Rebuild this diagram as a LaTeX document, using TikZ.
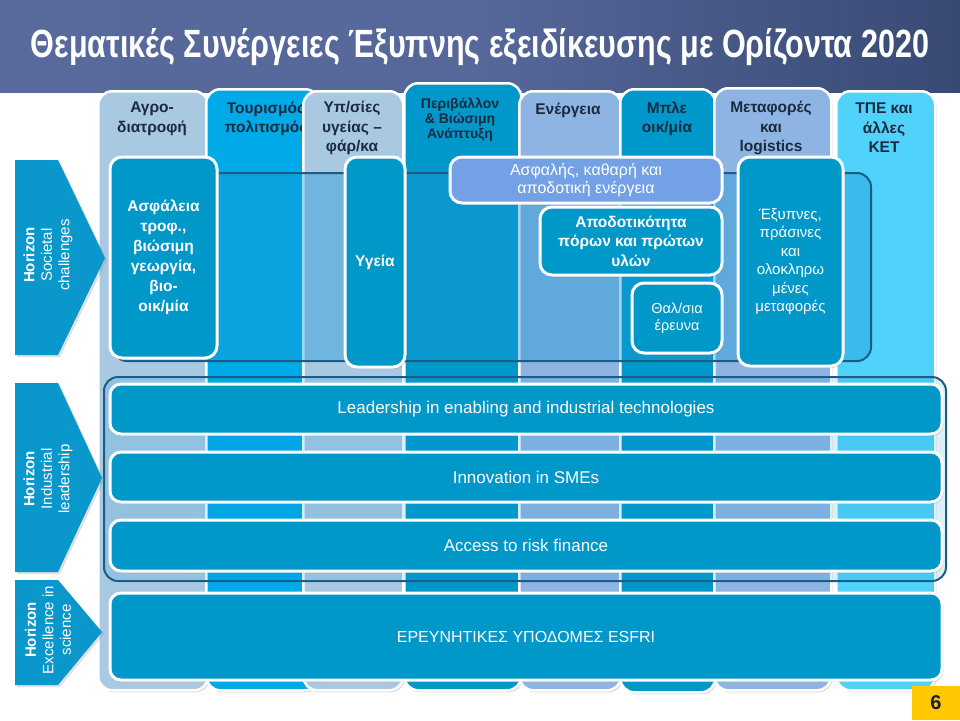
\documentclass[tikz,border=0pt]{standalone}
\usepackage{fontspec}
\setmainfont{Liberation Sans}
\usepackage{graphicx}
\usetikzlibrary{shadows}
\definecolor{hdrA}{HTML}{5A6B9C}
\definecolor{hdrB}{HTML}{56679A}
\definecolor{hdrC}{HTML}{34466F}
\definecolor{hdrD}{HTML}{16243F}
\definecolor{cLight}{HTML}{A9C8E2}
\definecolor{cBright}{HTML}{00A9E8}
\definecolor{cMed}{HTML}{0098CA}
\definecolor{cPeri}{HTML}{8EB4E3}
\definecolor{cCyan}{HTML}{50D2FA}
\definecolor{boxBlue}{HTML}{0097C9}
\definecolor{enBlue}{HTML}{74A0E6}
\definecolor{bandLine}{HTML}{1B5D88}
\definecolor{bandFill}{HTML}{1A9AD6}
\definecolor{arrBlue}{HTML}{0A97CB}
\definecolor{hdrText}{HTML}{1C2A40}
\definecolor{pgYellow}{HTML}{FFC800}
\definecolor{pgText}{HTML}{1A1A33}
\pgfdeclarehorizontalshading{hdrshade}{100bp}{color(0bp)=(hdrA); color(50bp)=(hdrB); color(78bp)=(hdrC); color(100bp)=(hdrD)}
\begin{document}
\begin{tikzpicture}[x=1pt,y=-1pt,
  softshadow/.style={drop shadow={shadow xshift=1.5pt, shadow yshift=-2pt, opacity=0.25, fill=black!60}},
  colbox/.style={draw=white, line width=2.5pt, rounded corners=14pt, inner sep=0pt, anchor=north west, softshadow},
  colhdr/.style={font=\bfseries\fontsize{15.5}{19.5}\selectfont, text=hdrText, align=center, inner sep=0pt},
  band/.style={draw=bandLine, line width=2pt, fill=bandFill, fill opacity=0.4, rounded corners=14pt, inner sep=0pt, anchor=north west},
  sbox/.style={draw=white, line width=3pt, rounded corners=12pt, fill=boxBlue, text=white, align=center, inner sep=0pt, softshadow},
  sbold/.style={font=\bfseries\fontsize{15.5}{20}\selectfont},
  sreg/.style={font=\fontsize{15}{18.5}\selectfont},
  rowbox/.style={draw=white, line width=3pt, rounded corners=11pt, fill=boxBlue, text=white, inner sep=0pt, minimum width=832pt, font=\fontsize{17}{20}\selectfont, softshadow},
  arrowtxt/.style={rotate=90, text=white, align=center, font=\fontsize{15}{17.5}\selectfont, inner sep=0pt},
  arrowshape/.style={fill=arrBlue, drop shadow={shadow xshift=2pt, shadow yshift=-2pt, opacity=0.3, fill=black!40}}
]
\useasboundingbox (0,0) rectangle (960,720);
\fill[white] (0,0) rectangle (960,720);
\shade[shading=hdrshade] (0,0) rectangle (960,92);

% title
\node[text=white, anchor=base, inner sep=0pt] (title) at (480,57)
  {\resizebox{898pt}{29pt}{\bfseries Θεματικές Συνέργειες Έξυπνης εξειδίκευσης με Ορίζοντα 2020}};

% columns
\node[colbox, fill=cLight, minimum width=110pt, minimum height=599pt] (col1) at (97,90) {};
\node[colhdr] (h1) at (152,119) {Αγρο-\\διατροφή};
\node[colbox, fill=cBright, minimum width=113pt, minimum height=601pt] (col2) at (205,88) {};
\node[colhdr] (h2) at (266,119) {Τουρισμός\\πολιτισμός};
\node[colbox, fill=cLight, minimum width=100pt, minimum height=599pt] (col3) at (302,90) {};
\node[colhdr] (h3) at (352,128) {Υπ/σίες\\υγείας –\\φάρ/κα};
\node[colbox, fill=cMed, minimum width=117pt, minimum height=607pt] (col4) at (403,82) {};
\node[colhdr, font=\bfseries\fontsize{14}{15}\selectfont] (h4) at (460,120) {Περιβάλλον\\\& Βιώσιμη\\Ανάπτυξη};
\node[colbox, fill=cPeri, minimum width=102pt, minimum height=599pt] (col5) at (518,90) {};
\node[colhdr] (h5) at (568,110) {Ενέργεια};
\node[colbox, fill=cMed, minimum width=95pt, minimum height=603pt] (col6) at (619,88) {};
\node[colhdr] (h6) at (667,119) {Μπλε\\οικ/μία};
\node[colbox, fill=cPeri, minimum width=117pt, minimum height=602pt] (col7) at (713,87) {};
\node[colhdr] (h7) at (771,128) {Μεταφορές\\και\\logistics};
\node[colbox, fill=cCyan, minimum width=99pt, minimum height=599pt] (col8) at (835,90) {};
\node[colhdr] (h8) at (884,128) {ΤΠΕ και\\άλλες\\ΚΕΤ};

% societal band
\node[band, minimum width=758pt, minimum height=188pt] (sband) at (112,172) {};

% societal boxes
\node[sbox, sbold, minimum width=107pt, minimum height=201pt] (food) at (163.5,257.5)
  {Ασφάλεια\\τροφ.,\\βιώσιμη\\γεωργία,\\βιο-\\οικ/μία};
\node[sbox, sbold, minimum width=60pt, minimum height=210pt] (health) at (375,262) {Υγεία};
\node[sbox, fill=enBlue, font=\fontsize{16}{18}\selectfont, minimum width=272pt, minimum height=46pt] (energy) at (586,180)
  {Ασφαλής, καθαρή και\\αποδοτική ενέργεια};
\node[sbox, font=\bfseries\fontsize{15.5}{19.5}\selectfont, minimum width=182pt, minimum height=68pt] (resource) at (631,241)
  {Αποδοτικότητα\\πόρων και πρώτων\\υλών};
\node[sbox, font=\fontsize{14.5}{17}\selectfont, minimum width=90pt, minimum height=70pt] (marine) at (677,318)
  {Θαλ/σια\\έρευνα};
\node[sbox, sreg, minimum width=105pt, minimum height=209pt] (transport) at (790.5,261.5)
  {Έξυπνες,\\πράσινες\\και\\ολοκληρω\\μένες\\μεταφορές};

% industrial band
\node[band, fill opacity=0.15, minimum width=842pt, minimum height=204pt] (iband) at (103,376) {};
\node[rowbox, minimum height=50pt] (lead) at (526,409) {Leadership in enabling and industrial technologies};
\node[rowbox, minimum height=50pt] (sme) at (526,477) {Innovation in SMEs};
\node[rowbox, minimum height=51pt] (risk) at (526,545.5) {Access to risk finance};
\node[rowbox, minimum height=87pt, font=\fontsize{16}{20}\selectfont] (esfri) at (526,636.5) {ΕΡΕΥΝΗΤΙΚΕΣ ΥΠΟΔΟΜΕΣ ESFRI};

% left arrows
\path[arrowshape] (15,160) -- (58,160) -- (105,258) -- (58,355) -- (15,355) -- cycle;
\node[arrowtxt] (asoc) at (48,255) {\textbf{Horizon}\\Societal\\challenges};
\path[arrowshape] (15,383) -- (58,383) -- (102,478) -- (58,572) -- (15,572) -- cycle;
\node[arrowtxt] (aind) at (48,479) {\textbf{Horizon}\\Industrial\\leadership};
\path[arrowshape] (15,580) -- (58,580) -- (102,632) -- (58,685) -- (15,685) -- cycle;
\node[arrowtxt] (aexc) at (48,630) {\textbf{Horizon}\\Excellence in\\science};

% page number
\node[fill=pgYellow, minimum width=48pt, minimum height=34pt, inner sep=0pt, anchor=south east,
  font=\bfseries\fontsize{20}{20}\selectfont, text=pgText] (page) at (960,720) {6};
\end{tikzpicture}
\end{document}
